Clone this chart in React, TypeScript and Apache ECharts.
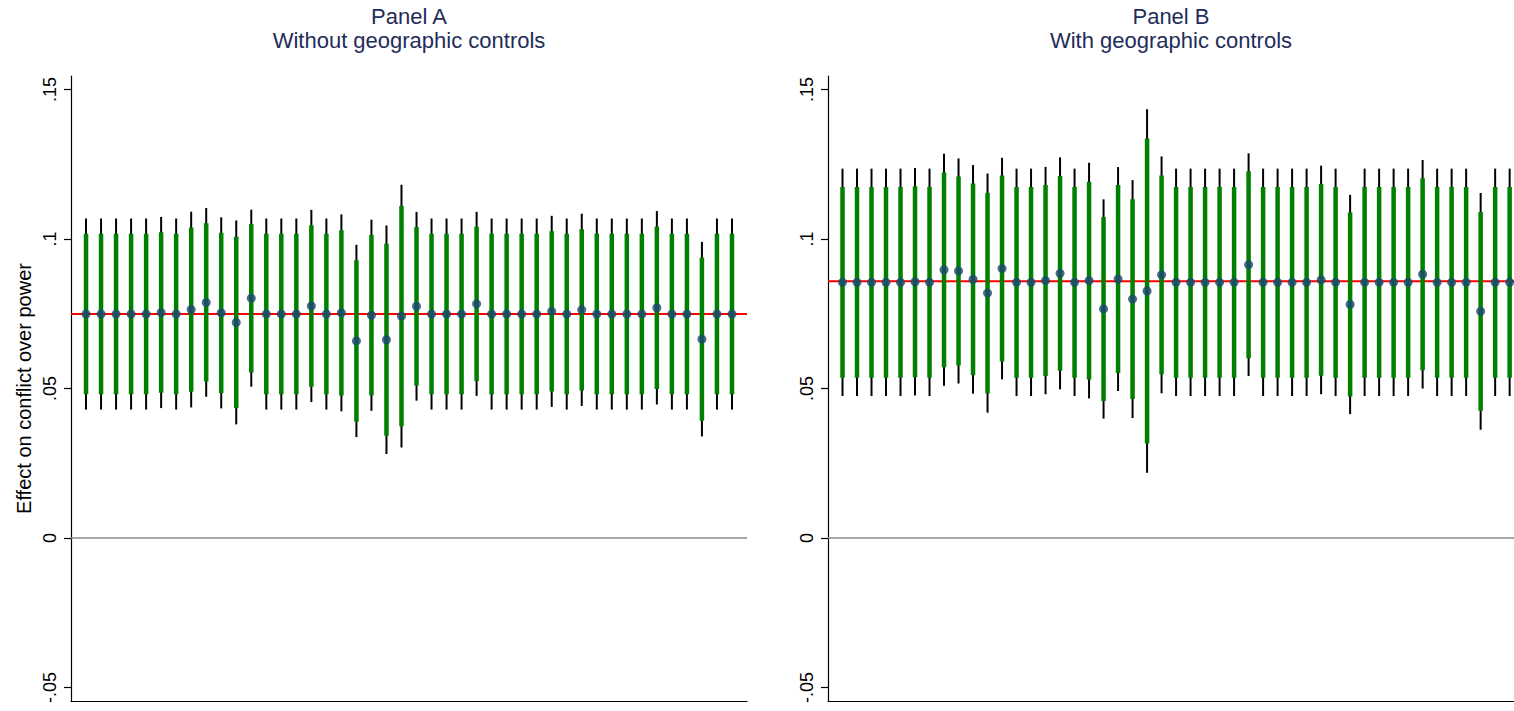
import React, { useEffect, useRef } from "react";
import * as echarts from "echarts";

// ---------- Data ----------
// Panel A: without geographic controls (44 estimates)
const estA = [
  0.0749, 0.0749, 0.0749, 0.0749, 0.0749, 0.0754, 0.0749, 0.0764, 0.0788, 0.0753,
  0.0721, 0.0802, 0.0749, 0.0749, 0.0749, 0.0776, 0.0749, 0.0753, 0.0659, 0.0745,
  0.0663, 0.0742, 0.0775, 0.0749, 0.0749, 0.0749, 0.0783, 0.0749, 0.0749, 0.0749,
  0.0749, 0.0758, 0.0749, 0.0763, 0.0749, 0.0749, 0.0749, 0.0749, 0.0770, 0.0749,
  0.0749, 0.0665, 0.0749, 0.0749,
];
const seA = [
  0.0163, 0.0163, 0.0163, 0.0163, 0.0163, 0.0163, 0.0163, 0.0167, 0.0161, 0.0163,
  0.0174, 0.0151, 0.0163, 0.0163, 0.0163, 0.0164, 0.0163, 0.0168, 0.0164, 0.0163,
  0.0195, 0.0224, 0.0161, 0.0163, 0.0163, 0.0163, 0.0157, 0.0163, 0.0163, 0.0163,
  0.0163, 0.0163, 0.0163, 0.0164, 0.0163, 0.0163, 0.0163, 0.0163, 0.0165, 0.0163,
  0.0163, 0.0166, 0.0163, 0.0163,
];
// Panel B: with geographic controls (47 estimates)
const estB = [
  0.0855, 0.0855, 0.0855, 0.0855, 0.0855, 0.0857, 0.0855, 0.0897, 0.0893, 0.0865,
  0.0819, 0.0901, 0.0855, 0.0855, 0.0861, 0.0885, 0.0855, 0.0861, 0.0766, 0.0866,
  0.0799, 0.0826, 0.0880, 0.0855, 0.0855, 0.0855, 0.0855, 0.0855, 0.0914, 0.0855,
  0.0855, 0.0855, 0.0855, 0.0863, 0.0855, 0.0781, 0.0855, 0.0855, 0.0855, 0.0855,
  0.0882, 0.0855, 0.0855, 0.0855, 0.0758, 0.0855, 0.0855,
];
const seB = [
  0.0194, 0.0194, 0.0194, 0.0194, 0.0194, 0.0194, 0.0194, 0.0198, 0.0192, 0.0195,
  0.0204, 0.0189, 0.0194, 0.0194, 0.0194, 0.0198, 0.0194, 0.0201, 0.0187, 0.0191,
  0.0203, 0.0310, 0.0202, 0.0194, 0.0194, 0.0194, 0.0194, 0.0194, 0.0190, 0.0194,
  0.0194, 0.0194, 0.0194, 0.0195, 0.0194, 0.0187, 0.0194, 0.0194, 0.0194, 0.0194,
  0.0195, 0.0194, 0.0194, 0.0194, 0.0202, 0.0194, 0.0194,
];
const refLines = [0.0749, 0.0859]; // red reference lines (baseline estimate)
const zeroLine = 0;
const xMax = [45, 47.3];
const yTickValues = [-0.05, 0, 0.05, 0.1, 0.15];
const yTickLabels = ["-.05", "0", ".05", ".1", ".15"];
const panelTitles = ["Panel A\nWithout geographic controls", "Panel B\nWith geographic controls"];
const yAxisTitle = "Effect on conflict over power";
const Z90 = 1.645;
const Z95 = 1.96;

const FONT = "'Liberation Sans', Arial, Helvetica, sans-serif";

function buildCI(est: number[], se: number[]) {
  return est.map((e, i) => [
    i + 1,
    e - Z95 * se[i],
    e + Z95 * se[i],
    e - Z90 * se[i],
    e + Z90 * se[i],
  ]);
}

export default function App() {
  const ref = useRef<HTMLDivElement>(null);

  useEffect(() => {
    document.body.style.margin = "0";
    if (!ref.current) return;
    const chart = echarts.init(ref.current, null, { renderer: "svg" });

    const yAxisBase = (gridIndex: number, withName: boolean) => ({
      type: "value",
      gridIndex,
      min: -0.0545,
      max: 0.1545,
      name: withName ? yAxisTitle : "",
      nameLocation: "middle",
      nameRotate: 90,
      nameGap: 37,
      nameTextStyle: { fontFamily: FONT, fontSize: 20, color: "#000" },
      axisLine: { show: true, lineStyle: { color: "#000", width: 1.2 } },
      axisTick: {
        show: true,
        length: 7,
        customValues: yTickValues,
        lineStyle: { color: "#000", width: 1.2 },
      },
      axisLabel: {
        show: true,
        customValues: yTickValues,
        rotate: 90,
        align: "center",
        verticalAlign: "bottom",
        margin: 12,
        fontFamily: FONT,
        fontSize: 18,
        color: "#000",
        formatter: (v: number) => {
          const idx = yTickValues.findIndex((t) => Math.abs(t - v) < 1e-9);
          return idx >= 0 ? yTickLabels[idx] : "";
        },
      },
      splitLine: { show: false },
    });

    const xAxisBase = (gridIndex: number, max: number) => ({
      type: "value",
      gridIndex,
      min: 0,
      max,
      axisLine: { show: true, onZero: false, lineStyle: { color: "#000", width: 1.2 } },
      axisTick: { show: false },
      axisLabel: { show: false },
      splitLine: { show: false },
    });

    const renderCI = (_params: any, api: any) => {
      const x = api.value(0);
      const a = api.coord([x, api.value(1)]);
      const b = api.coord([x, api.value(2)]);
      const c = api.coord([x, api.value(3)]);
      const d = api.coord([x, api.value(4)]);
      return {
        type: "group",
        children: [
          {
            type: "line",
            shape: { x1: a[0], y1: a[1], x2: b[0], y2: b[1] },
            style: { stroke: "#000000", lineWidth: 2 },
          },
          {
            type: "line",
            shape: { x1: c[0], y1: c[1], x2: d[0], y2: d[1] },
            style: { stroke: "#008000", lineWidth: 4.5 },
          },
        ],
      };
    };

    const hLine = (idx: number, value: number, color: string, width: number) => ({
      type: "line",
      xAxisIndex: idx,
      yAxisIndex: idx,
      z: 1,
      silent: true,
      symbol: "none",
      showSymbol: false,
      lineStyle: { color, width, type: "solid" },
      data: [
        [0, value],
        [xMax[idx], value],
      ],
    });

    const panelSeries = (idx: number, est: number[], se: number[]) => [
      hLine(idx, zeroLine, "#8a8a8a", 1.3),
      hLine(idx, refLines[idx], "#ff0000", 2),
      {
        type: "custom",
        xAxisIndex: idx,
        yAxisIndex: idx,
        z: 2,
        renderItem: renderCI,
        encode: { x: 0, y: [1, 2, 3, 4] },
        data: buildCI(est, se),
      },
      {
        type: "scatter",
        xAxisIndex: idx,
        yAxisIndex: idx,
        z: 3,
        symbol: "circle",
        symbolSize: 9,
        itemStyle: { color: "#1a476f" },
        data: est.map((e, i) => [i + 1, e]),
      },
    ];

    chart.setOption({
      animation: false,
      backgroundColor: "#ffffff",
      grid: [
        { left: 71, top: 76, width: 676, height: 625 },
        { left: 828, top: 76, width: 686, height: 625 },
      ],
      xAxis: [xAxisBase(0, xMax[0]), xAxisBase(1, xMax[1])],
      yAxis: [yAxisBase(0, true), yAxisBase(1, false)],
      graphic: [
        {
          type: "text",
          x: 409,
          y: 4,
          style: {
            text: panelTitles[0],
            textAlign: "center",
            textVerticalAlign: "top",
            fontFamily: FONT,
            fontSize: 22,
            lineHeight: 24,
            fill: "#1f2d5a",
          },
        },
        {
          type: "text",
          x: 1171,
          y: 4,
          style: {
            text: panelTitles[1],
            textAlign: "center",
            textVerticalAlign: "top",
            fontFamily: FONT,
            fontSize: 22,
            lineHeight: 24,
            fill: "#1f2d5a",
          },
        },
      ],
      series: [...panelSeries(0, estA, seA), ...panelSeries(1, estB, seB)],
    });

    return () => {
      chart.dispose();
    };
  }, []);

  return (
    <div
      ref={ref}
      style={{ width: 1514, height: 711, overflow: "hidden", background: "#fff" }}
    />
  );
}
